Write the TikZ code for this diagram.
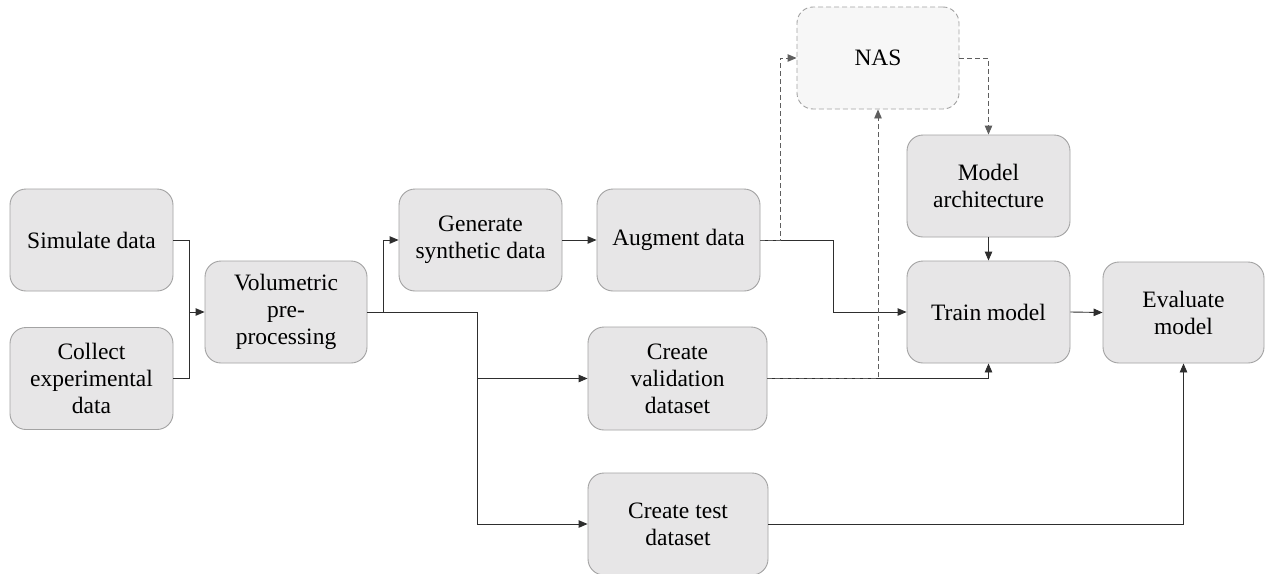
\documentclass[tikz,border=0pt]{standalone}
\usepackage{fontspec}
\setmainfont{Liberation Serif}
\usetikzlibrary{arrows.meta}
\definecolor{boxfill}{HTML}{E7E6E7}
\definecolor{boxline}{HTML}{A3A3A3}
\definecolor{nasfill}{HTML}{F7F7F7}
\definecolor{wire}{HTML}{2E2E2E}
\definecolor{dwire}{HTML}{5E5E5E}
\tikzset{
  stagebox/.style={draw=boxline, fill=boxfill, line width=0.9pt, rounded corners=16pt,
    align=center, inner sep=0pt, font=\fontsize{23.5}{27}\selectfont,
    minimum width=163pt, minimum height=102pt},
  optbox/.style={stagebox, fill=nasfill, dashed, dash pattern=on 5pt off 3pt},
  flow/.style={draw=wire, line width=0.9pt, -{Triangle[length=9pt,width=7.5pt]}},
  flowplain/.style={draw=wire, line width=0.9pt},
  search/.style={draw=dwire, line width=0.9pt, dash pattern=on 5pt off 3pt,
    -{Triangle[length=9pt,width=7.5pt]}}
}
\begin{document}
\begin{tikzpicture}[x=1pt, y=-1pt]
\useasboundingbox[fill=white] (0,0) rectangle (1266,573);

% pipeline stages
\node[stagebox] (sim)   at (91.5,240)   {Simulate data};
\node[stagebox] (col)   at (91.5,378.5) {Collect\\experimental\\data};
\node[stagebox, minimum width=162pt] (vol) at (286,312) {Volumetric\\pre-\\processing};
\node[stagebox] (gen)   at (480.5,240)  {Generate\\synthetic data};
\node[stagebox] (aug)   at (678.5,240)  {Augment data};
\node[stagebox, minimum width=179pt, minimum height=103pt] (val) at (677.5,378.5) {Create\\validation\\dataset};
\node[stagebox, minimum width=180pt] (test) at (678,524) {Create test\\dataset};
\node[optbox, minimum width=162pt] (nas) at (878,58) {NAS};
\node[stagebox] (arch)  at (988.5,186)  {Model\\architecture};
\node[stagebox] (train) at (988.5,312)  {Train model};
\node[stagebox, minimum width=161pt, minimum height=101pt] (eval) at (1183.5,312.5) {Evaluate\\model};

% junction points
\coordinate (m1) at (189,312);
\coordinate (b1) at (383,312);
\coordinate (b2) at (477,312);
\coordinate (b3) at (833,240);
\coordinate (d1) at (780,240);

% data sources merge into preprocessing
\draw[flowplain] (sim.east) -| (m1);
\draw[flowplain] (col.east) -| (m1);
\draw[flow] (m1) -- (vol.west);

% preprocessing fans out
\draw[flow] (vol.east) -- (b1) |- (gen.west);
\draw[flow] (vol.east) -- (b2) |- (val.west);
\draw[flow] (b2) |- (test.west);

\draw[flow] (gen.east) -- (aug.west);
\draw[flow] (aug.east) -- (b3) |- (train.west);
\draw[flow] (arch.south) -- (train.north);
\draw[flow] (val.east) -| (train.south);
\draw[flow] (train.east) -- (eval.west);
\draw[flow] (test.east) -| (eval.south);

% architecture search loop
\draw[search] (aug.east) -- (d1) |- (nas.west);
\draw[search] (val.east) -| (nas.south);
\draw[search] (nas.east) -| (arch.north);
\end{tikzpicture}
\end{document}
